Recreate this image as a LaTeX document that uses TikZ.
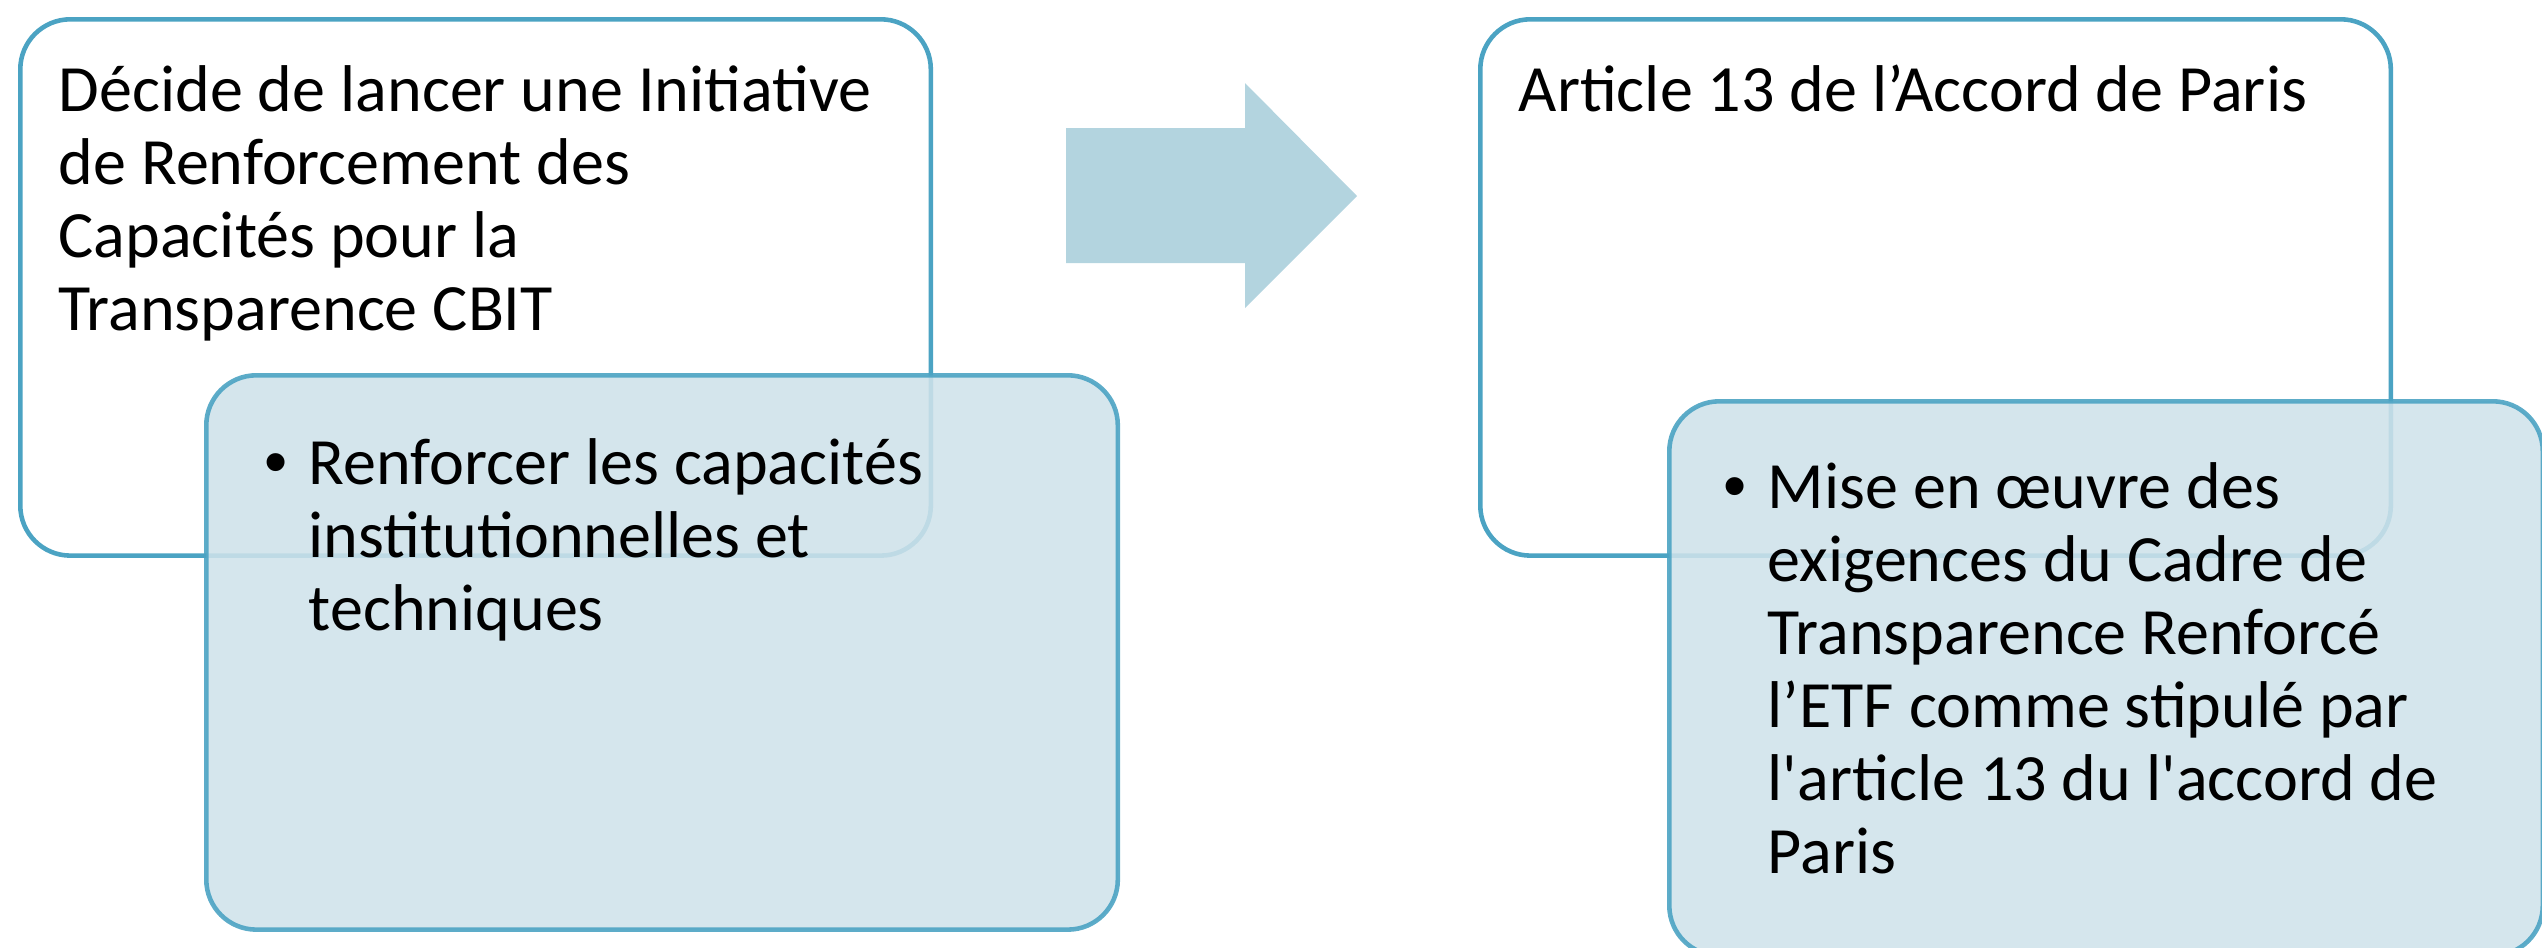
\documentclass[tikz,border=0pt]{standalone}
\usepackage{fontspec}
\setmainfont{Carlito}
\newfontfamily\bulletfont{Liberation Sans}
\usepackage{xcolor}
\usetikzlibrary{positioning}

\definecolor{frameblue}{RGB}{75,163,195}
\definecolor{paneblue}{RGB}{207,226,234}
\definecolor{arrowblue}{RGB}{179,212,223}

\newcommand{\firstrow}{\rule{0pt}{18pt}}

\begin{document}
\begin{tikzpicture}[x=0.01cm, y=-0.01cm]
		\tikzstyle{outer} = [draw=frameblue, line width=1.3pt, rounded corners=0.5cm, fill=white, anchor=north west, inner sep=0pt]
		\tikzstyle{pane} = [draw=frameblue, line width=1.3pt, rounded corners=0.5cm, fill=paneblue, fill opacity=0.88, draw opacity=0.9, anchor=north west, inner sep=0pt]
		\tikzstyle{txt} = [inner sep=0pt, anchor=north west, align=left, font=\fontsize{18.8pt}{20.8pt}\selectfont]
		
		\useasboundingbox (0,0) rectangle (2542,947);
		
		% left block
		\node[outer, minimum width=9.1cm, minimum height=5.36cm] 	at (18, 17) 	(lbox) 	{};
		\node[txt] 	at (58, 47) 	(ltitle) 	{\firstrow Décide de lancer une Initiative\\de Renforcement des\\Capacités pour la\\Transparence CBIT};
		\node[pane, minimum width=9.11cm, minimum height=5.54cm] 	at (204, 373) 	(lpane) 	{};
		\node[txt] 	at (264, 420) 	(lbullet) 	{\firstrow{\bulletfont •}};
		\node[txt] 	at (308, 420) 	(litem) 	{\firstrow Renforcer les capacités\\institutionnelles et\\techniques};
		
		% arrow
		\fill[arrowblue] (1066, 128) -- (1245, 128) -- (1245, 83) -- (1357, 196) -- (1245, 308) -- (1245, 263) -- (1066, 263) -- cycle;
		
		% right block
		\node[outer, minimum width=9.1cm, minimum height=5.36cm] 	at (1478, 17) 	(rbox) 	{};
		\node[txt] 	at (1518, 47) 	(rtitle) 	{\firstrow Article 13 de l’Accord de Paris};
		\node[pane, minimum width=8.73cm, minimum height=5.54cm] 	at (1667, 399) 	(rpane) 	{};
		\node[txt] 	at (1723, 444) 	(rbullet) 	{\firstrow{\bulletfont •}};
		\node[txt] 	at (1767, 444) 	(ritem) 	{\firstrow Mise en œuvre des\\exigences du Cadre de\\Transparence Renforcé\\l’ETF comme stipulé par\\l\textquotesingle article 13 du l\textquotesingle accord de\\Paris};
	\end{tikzpicture}
\end{document}
